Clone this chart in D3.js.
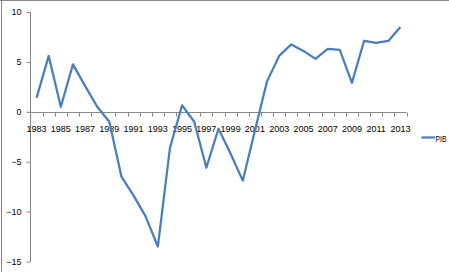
<!DOCTYPE html>
<html><head><meta charset="utf-8">
<script src="https://cdn.jsdelivr.net/npm/d3@7"></script>
<style>
html,body{margin:0;padding:0;background:#fff;}
text{font-family:"Liberation Sans",Arial,sans-serif;font-size:9px;fill:#000;}
</style></head>
<body><svg id="c" width="449" height="272"></svg>
<script>
const years = d3.range(1983, 2014);
const pib = [1.4, 5.6, 0.5, 4.75, 2.6, 0.5, -1.0, -6.5, -8.4, -10.5, -13.5, -3.6, 0.65, -1.0, -5.6, -1.7, -4.2, -6.9, -1.9, 3.05, 5.6, 6.75, 6.1, 5.3, 6.3, 6.2, 2.9, 7.1, 6.9, 7.1, 8.5];
const yTicks = [-15, -10, -5, 0, 5, 10];
const xLabels = years.filter((d, i) => i % 2 === 0);
const seriesName = "PIB";

const svg = d3.select("#c");
const axisColor = "#868686";
const lineColor = "#4a7ebb";

// frame
svg.append("line").attr("x1", 0).attr("x2", 449).attr("y1", 0.5).attr("y2", 0.5).attr("stroke", axisColor);
svg.append("line").attr("x1", 1.5).attr("x2", 1.5).attr("y1", 0).attr("y2", 272).attr("stroke", axisColor);

const x = d3.scaleBand().domain(years).range([30.5, 406.5]).padding(0);
const y = d3.scaleLinear().domain([-15, 10]).range([261.5, 12]);
const bw = x.bandwidth();
const cx = d => x(d) + bw / 2;

// y axis
const yAxis = svg.append("g").attr("transform", "translate(30.5,0)")
  .call(d3.axisLeft(y).tickValues(yTicks).tickSize(4).tickPadding(5).tickFormat(d3.format("d")));
yAxis.select(".domain").attr("stroke", axisColor).attr("d", `M0,${y(10)}V${y(-15)}`);
yAxis.selectAll(".tick line").attr("stroke", axisColor);
yAxis.selectAll("text").attr("font-size", "9px").attr("font-family", "Liberation Sans, Arial, sans-serif").attr("fill", "#000");

// x axis at zero
const y0 = Math.round(y(0)) + 0.5;
const xg = svg.append("g");
xg.append("line").attr("x1", x.range()[0]).attr("x2", x.range()[1]).attr("y1", y0).attr("y2", y0).attr("stroke", axisColor);
const bounds = years.map(d => x(d)).concat([x.range()[1]]);
xg.selectAll("line.tk").data(bounds.slice(1)).join("line").attr("class", "tk")
  .attr("x1", d => Math.round(d) + 0.5).attr("x2", d => Math.round(d) + 0.5)
  .attr("y1", y0).attr("y2", y0 + 4).attr("stroke", axisColor);
xg.selectAll("text").data(xLabels).join("text")
  .attr("x", d => cx(d)).attr("y", y0 + 19).attr("text-anchor", "middle").text(d => d);

// line
const line = d3.line().x((d, i) => cx(years[i])).y(d => y(d));
svg.append("path").datum(pib).attr("d", line).attr("fill", "none")
  .attr("stroke", lineColor).attr("stroke-width", 2.25).attr("stroke-linejoin", "round");

// legend
svg.append("line").attr("x1", 421.5).attr("x2", 435).attr("y1", 137.5).attr("y2", 137.5)
  .attr("stroke", lineColor).attr("stroke-width", 2.25);
svg.append("text").attr("x", 435.5).attr("y", 141.5).attr("font-size", "8px")
  .attr("textLength", 11).attr("lengthAdjust", "spacingAndGlyphs").text(seriesName);
</script></body></html>
